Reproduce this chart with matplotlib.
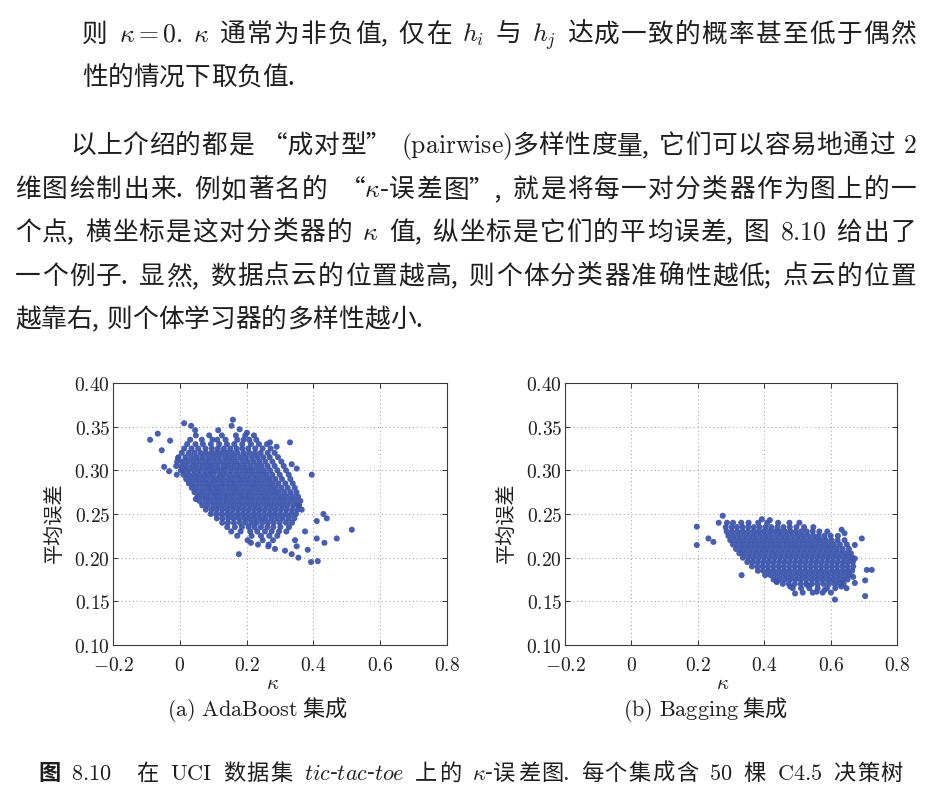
import matplotlib
matplotlib.use('Agg')
import matplotlib.pyplot as plt

plt.rcParams['font.family'] = ['Noto Sans CJK SC', 'DejaVu Sans']
plt.rcParams['mathtext.fontset'] = 'cm'
plt.rcParams['axes.unicode_minus'] = True

W, H, DPI = 934, 790, 100
TEXT_COLOR = '#1e1e1e'
DOT_COLOR = '#3d55ad'

# ---------------- text content ----------------
para_lines = [
    r"则 $\kappa = 0.$ $\kappa$ 通常为非负值, 仅在 $h_i$ 与 $h_j$ 达成一致的概率甚至低于偶然",
    r"性的情况下取负值.",
    r"以上介绍的都是 “成对型” $\mathrm{(pairwise)}$多样性度量, 它们可以容易地通过 $2$",
    r"维图绘制出来. 例如著名的 “$\kappa$-误差图”, 就是将每一对分类器作为图上的一",
    r"个点, 横坐标是这对分类器的 $\kappa$ 值, 纵坐标是它们的平均误差, 图 $8.10$ 给出了",
    r"一个例子. 显然, 数据点云的位置越高, 则个体分类器准确性越低; 点云的位置",
    r"越靠右, 则个体学习器的多样性越小.",
]
figure_caption = (r"图 $\mathbf{8.10}$  在 $\mathrm{UCI}$ 数据集 "
                  r"$\mathit{tic}$-$\mathit{tac}$-$\mathit{toe}$ 上的 $\kappa$-误差图. "
                  r"每个集成含 $\mathrm{50}$ 棵 $\mathrm{C4.5}$ 决策树")
sub_captions = [r"$\mathrm{(a)\ AdaBoost}$ 集成", r"$\mathrm{(b)\ Bagging}$ 集成"]
y_label = "平均误差"
x_label = r"$\kappa$"

x_ticks = [-0.2, 0.0, 0.2, 0.4, 0.6, 0.8]
x_tick_labels = [r"$-0.2$", r"$0$", r"$0.2$", r"$0.4$", r"$0.6$", r"$0.8$"]
y_ticks = [0.10, 0.15, 0.20, 0.25, 0.30, 0.35, 0.40]
y_tick_labels = [r"$0.10$", r"$0.15$", r"$0.20$", r"$0.25$", r"$0.30$", r"$0.35$", r"$0.40$"]

# ---------------- AdaBoost cloud ----------------
ada_err_levels = [0.340, 0.335, 0.330, 0.325, 0.320, 0.315, 0.310, 0.305, 0.300,
                  0.295, 0.290, 0.285, 0.280, 0.275, 0.270, 0.265, 0.260, 0.255,
                  0.250, 0.245, 0.240, 0.235, 0.230, 0.225, 0.220, 0.215]
ada_kappa_rows = [
    [0.048, 0.088, 0.126, 0.168, 0.196, 0.222],
    [0.031, 0.066, 0.098, 0.112, 0.137, 0.172, 0.191, 0.208, 0.229],
    [0.022, 0.047, 0.069, 0.093, 0.118, 0.141, 0.163, 0.187, 0.213, 0.237, 0.261],
    [0.013, 0.035, 0.055, 0.077, 0.096, 0.114, 0.132, 0.151, 0.170, 0.187, 0.205, 0.226, 0.248, 0.272],
    [0.006, 0.027, 0.044, 0.062, 0.078, 0.094, 0.109, 0.125, 0.141, 0.157, 0.173, 0.191, 0.208, 0.225, 0.242, 0.263, 0.284],
    [-0.004, 0.017, 0.034, 0.051, 0.068, 0.085, 0.101, 0.117, 0.134, 0.149, 0.165, 0.182, 0.198, 0.216, 0.233, 0.250, 0.269, 0.294],
    [-0.008, 0.009, 0.025, 0.042, 0.058, 0.075, 0.090, 0.106, 0.123, 0.139, 0.155, 0.171, 0.188, 0.204, 0.221, 0.238, 0.256, 0.277, 0.304],
    [-0.011, 0.004, 0.019, 0.036, 0.051, 0.067, 0.083, 0.098, 0.114, 0.131, 0.146, 0.162, 0.178, 0.195, 0.212, 0.229, 0.245, 0.263, 0.284, 0.311],
    [0.003, 0.013, 0.028, 0.044, 0.060, 0.076, 0.092, 0.107, 0.123, 0.138, 0.154, 0.171, 0.187, 0.203, 0.219, 0.236, 0.252, 0.270, 0.292, 0.318],
    [0.011, 0.025, 0.041, 0.056, 0.072, 0.087, 0.101, 0.118, 0.133, 0.149, 0.165, 0.180, 0.196, 0.212, 0.228, 0.244, 0.260, 0.277, 0.299, 0.326],
    [0.019, 0.034, 0.050, 0.066, 0.081, 0.097, 0.112, 0.128, 0.144, 0.159, 0.175, 0.190, 0.206, 0.222, 0.237, 0.253, 0.269, 0.286, 0.306, 0.331],
    [0.027, 0.042, 0.058, 0.074, 0.089, 0.105, 0.121, 0.136, 0.152, 0.167, 0.183, 0.199, 0.215, 0.230, 0.246, 0.262, 0.278, 0.295, 0.316, 0.338],
    [0.036, 0.051, 0.067, 0.083, 0.098, 0.113, 0.129, 0.145, 0.161, 0.176, 0.192, 0.208, 0.223, 0.239, 0.255, 0.271, 0.287, 0.304, 0.323, 0.344],
    [0.044, 0.060, 0.075, 0.091, 0.107, 0.122, 0.138, 0.154, 0.169, 0.185, 0.201, 0.216, 0.232, 0.248, 0.264, 0.280, 0.296, 0.313, 0.331, 0.349],
    [0.053, 0.068, 0.084, 0.100, 0.115, 0.131, 0.146, 0.162, 0.178, 0.193, 0.209, 0.225, 0.241, 0.257, 0.273, 0.289, 0.305, 0.321, 0.338, 0.354],
    [0.059, 0.076, 0.092, 0.108, 0.123, 0.139, 0.155, 0.171, 0.186, 0.202, 0.218, 0.234, 0.250, 0.266, 0.282, 0.298, 0.314, 0.330, 0.346, 0.361],
    [0.067, 0.083, 0.100, 0.116, 0.132, 0.148, 0.163, 0.179, 0.195, 0.211, 0.227, 0.243, 0.259, 0.275, 0.291, 0.307, 0.323, 0.340, 0.357],
    [0.078, 0.095, 0.111, 0.127, 0.143, 0.159, 0.175, 0.191, 0.207, 0.223, 0.239, 0.255, 0.271, 0.287, 0.303, 0.319, 0.336, 0.353],
    [0.093, 0.109, 0.125, 0.141, 0.156, 0.172, 0.188, 0.204, 0.220, 0.236, 0.252, 0.268, 0.284, 0.300, 0.317, 0.333, 0.348],
    [0.111, 0.128, 0.145, 0.161, 0.177, 0.193, 0.209, 0.225, 0.241, 0.257, 0.274, 0.291, 0.308, 0.326, 0.343],
    [0.127, 0.144, 0.162, 0.180, 0.197, 0.214, 0.230, 0.247, 0.264, 0.281, 0.299, 0.318, 0.336],
    [0.142, 0.165, 0.186, 0.206, 0.224, 0.243, 0.262, 0.280, 0.301, 0.327],
    [0.154, 0.182, 0.211, 0.232, 0.255, 0.275, 0.297, 0.319],
    [0.172, 0.215, 0.243, 0.268, 0.292],
    [0.203, 0.248, 0.279],
    [0.234, 0.266],
]
ada_out_kappa = [-0.089, -0.066, -0.029, -0.054, -0.047, -0.032, 0.013, 0.034, 0.046,
                 -0.005, -0.009, 0.159, 0.155, 0.115, 0.179, 0.201, 0.330, 0.270,
                 0.290, 0.335, 0.350, 0.395, 0.048, 0.355, 0.365, 0.430, 0.440,
                 0.410, 0.515, 0.470, 0.433, 0.410, 0.375, 0.383, 0.355, 0.335,
                 0.315, 0.285, 0.265, 0.393, 0.413, 0.177, 0.213, 0.345, 0.350]
ada_out_err = [0.335, 0.342, 0.334, 0.323, 0.304, 0.299, 0.354, 0.351, 0.346,
               0.314, 0.295, 0.358, 0.351, 0.346, 0.347, 0.343, 0.332, 0.332,
               0.327, 0.307, 0.302, 0.295, 0.267, 0.260, 0.255, 0.250, 0.245,
               0.242, 0.232, 0.222, 0.217, 0.222, 0.230, 0.209, 0.200, 0.204,
               0.208, 0.210, 0.213, 0.195, 0.196, 0.204, 0.217, 0.220, 0.213]

# ---------------- Bagging cloud ----------------
bag_err_levels = [0.240, 0.235, 0.230, 0.225, 0.220, 0.215, 0.210, 0.205, 0.200,
                  0.195, 0.190, 0.185, 0.180, 0.175, 0.170, 0.165, 0.160]
bag_kappa_rows = [
    [0.288, 0.306, 0.331, 0.353, 0.382, 0.409, 0.442, 0.476, 0.506],
    [0.284, 0.302, 0.318, 0.335, 0.352, 0.369, 0.386, 0.404, 0.421, 0.440, 0.458, 0.477, 0.497, 0.520, 0.548],
    [0.287, 0.303, 0.319, 0.335, 0.351, 0.367, 0.383, 0.399, 0.415, 0.431, 0.447, 0.463, 0.479, 0.495, 0.511, 0.528, 0.546, 0.566, 0.590],
    [0.292, 0.308, 0.324, 0.340, 0.356, 0.372, 0.388, 0.404, 0.420, 0.436, 0.452, 0.468, 0.484, 0.500, 0.516, 0.532, 0.548, 0.564, 0.581, 0.600, 0.622],
    [0.298, 0.314, 0.330, 0.346, 0.362, 0.378, 0.394, 0.410, 0.426, 0.442, 0.458, 0.474, 0.490, 0.506, 0.522, 0.538, 0.554, 0.570, 0.586, 0.603, 0.621, 0.642],
    [0.306, 0.322, 0.338, 0.354, 0.370, 0.386, 0.402, 0.418, 0.434, 0.450, 0.466, 0.482, 0.498, 0.514, 0.530, 0.546, 0.562, 0.578, 0.594, 0.610, 0.628, 0.649],
    [0.315, 0.331, 0.347, 0.363, 0.379, 0.395, 0.411, 0.427, 0.443, 0.459, 0.475, 0.491, 0.507, 0.523, 0.539, 0.555, 0.571, 0.587, 0.603, 0.619, 0.636, 0.655],
    [0.325, 0.341, 0.357, 0.373, 0.389, 0.405, 0.421, 0.437, 0.453, 0.469, 0.485, 0.501, 0.517, 0.533, 0.549, 0.565, 0.581, 0.597, 0.613, 0.629, 0.645, 0.661],
    [0.336, 0.352, 0.368, 0.384, 0.400, 0.416, 0.432, 0.448, 0.464, 0.480, 0.496, 0.512, 0.528, 0.544, 0.560, 0.576, 0.592, 0.608, 0.624, 0.640, 0.655, 0.666],
    [0.349, 0.365, 0.381, 0.397, 0.413, 0.429, 0.445, 0.461, 0.477, 0.493, 0.509, 0.525, 0.541, 0.557, 0.573, 0.589, 0.605, 0.621, 0.637, 0.652, 0.667],
    [0.363, 0.379, 0.395, 0.411, 0.427, 0.443, 0.459, 0.475, 0.491, 0.507, 0.523, 0.539, 0.555, 0.571, 0.587, 0.603, 0.619, 0.635, 0.651, 0.668],
    [0.381, 0.397, 0.413, 0.429, 0.445, 0.461, 0.477, 0.493, 0.509, 0.525, 0.541, 0.557, 0.573, 0.589, 0.605, 0.621, 0.637, 0.652, 0.665],
    [0.403, 0.419, 0.435, 0.451, 0.467, 0.483, 0.499, 0.515, 0.531, 0.547, 0.563, 0.579, 0.595, 0.611, 0.627, 0.643, 0.658],
    [0.428, 0.445, 0.462, 0.478, 0.494, 0.510, 0.526, 0.542, 0.558, 0.574, 0.590, 0.606, 0.622, 0.637, 0.651],
    [0.456, 0.474, 0.492, 0.510, 0.527, 0.544, 0.561, 0.578, 0.595, 0.612, 0.627, 0.639],
    [0.486, 0.511, 0.536, 0.561, 0.589, 0.614],
    [0.516, 0.546, 0.576, 0.601],
]
bag_out_kappa = [0.197, 0.197, 0.232, 0.247, 0.275, 0.263, 0.393, 0.417, 0.332, 0.437,
                 0.493, 0.613, 0.704, 0.709, 0.724, 0.704, 0.694, 0.673, 0.633, 0.642,
                 0.673, 0.668, 0.673, 0.648, 0.558, 0.528, 0.478, 0.438, 0.582, 0.632]
bag_out_err = [0.2355, 0.2145, 0.222, 0.218, 0.248, 0.240, 0.244, 0.243, 0.180, 0.173,
               0.159, 0.152, 0.156, 0.186, 0.186, 0.174, 0.222, 0.2145, 0.232, 0.228,
               0.199, 0.178, 0.171, 0.165, 0.161, 0.169, 0.167, 0.172, 0.163, 0.167]


def flatten(levels, rows, extra_k, extra_e):
    ks, es = [], []
    for e, row in zip(levels, rows):
        for k in row:
            ks.append(k)
            es.append(e)
    return ks + list(extra_k), es + list(extra_e)


fig = plt.figure(figsize=(W / DPI, H / DPI), dpi=DPI)
fig.patch.set_facecolor('white')
renderer = fig.canvas.get_renderer()

# ---------------- justified text layout ----------------
MERGE_PREV = set(',.;”-')


def tokenize(s):
    toks = []
    pending = ''
    glue = False
    i = 0
    while i < len(s):
        c = s[i]
        if c == '$':
            j = s.index('$', i + 1)
            piece = s[i:j + 1]
            i = j + 1
        elif c == ' ':
            if toks and toks[-1] in (' ', '  '):
                toks[-1] = '  '
            else:
                toks.append(' ')
            glue = False
            i += 1
            continue
        else:
            piece = c
            i += 1
        if piece in MERGE_PREV and toks and toks[-1] not in (' ', '  '):
            toks[-1] += piece
            glue = (piece == '-')
            continue
        if piece == '“':
            pending += piece
            continue
        if glue and toks and toks[-1] not in (' ', '  '):
            toks[-1] += pending + piece
        else:
            toks.append(pending + piece)
        pending = ''
        glue = False
    return toks


def place(s, x0, ybase, size, x1=None, bold=()):
    toks = tokenize(s)
    em = size * DPI / 72.0
    items, seps = [], []
    prev = None
    for t in toks:
        if t in (' ', '  '):
            prev = 'quad' if t == '  ' else 'space'
            continue
        k = len(items)
        art = fig.text(0, 0, t, fontsize=size, ha='left', va='baseline',
                       color=TEXT_COLOR,
                       fontweight='bold' if k in bold else 'normal')
        w = art.get_window_extent(renderer).width
        if items:
            seps.append(prev if prev else 'tight')
        items.append((art, w))
        prev = None
    nat = {'space': 0.28 * em, 'quad': 0.9 * em, 'tight': 0.0}
    wt = {'space': 3.0, 'quad': 3.0, 'tight': 1.0}
    total = sum(w for _, w in items) + sum(nat[g] for g in seps)
    extra = 0.0
    if x1 is not None and seps:
        extra = (x1 - x0 - total) / sum(wt[g] for g in seps)
    x = x0
    for idx, (art, w) in enumerate(items):
        art.set_position((x / W, 1 - ybase / H))
        x += w
        if idx < len(seps):
            x += nat[seps[idx]] + wt[seps[idx]] * extra


line_x0 = [82, 82, 70, 15, 15, 15, 15]
line_x1 = [916, None, 917, 917, 916, 916, None]
line_base = [42, 85, 153, 197, 240, 284, 327]
for s, a, b, yb in zip(para_lines, line_x0, line_x1, line_base):
    place(s, a, yb, 18.5, b)

place(figure_caption, 38, 780, 16, 903, bold=(0,))

# ---------------- scatter panels ----------------
panels = [
    ([113, 645, 334, 262], flatten(ada_err_levels, ada_kappa_rows, ada_out_kappa, ada_out_err), 55, 273, 257),
    ([565, 645, 332, 262], flatten(bag_err_levels, bag_kappa_rows, bag_out_kappa, bag_out_err), 507, 723, 706),
]
for (box, (ks, es), ylab_x, xlab_x, cap_x), cap in zip(panels, sub_captions):
    l, b, w, h = box
    ax = fig.add_axes([l / W, 1 - b / H, w / W, h / H])
    ax.scatter(ks, es, s=19, color=DOT_COLOR, edgecolors='none', alpha=0.95, zorder=3)
    ax.set_xlim(-0.2, 0.8)
    ax.set_ylim(0.10, 0.40)
    ax.set_xticks(x_ticks)
    ax.set_xticklabels(x_tick_labels)
    ax.set_yticks(y_ticks)
    ax.set_yticklabels(y_tick_labels)
    ax.grid(True, color='#9c9c9c', linestyle=(0, (1, 3)), linewidth=0.7, zorder=0)
    ax.tick_params(direction='in', top=True, right=True, length=3.5, width=0.7,
                   labelsize=14, colors='#333333', labelcolor=TEXT_COLOR)
    ax.tick_params(axis='x', pad=7.5)
    ax.tick_params(axis='y', pad=2)
    for sp in ax.spines.values():
        sp.set_linewidth(0.8)
        sp.set_color('#3a3a3a')
    fig.text(ylab_x / W, 1 - 523 / H, y_label, rotation=90, ha='center', va='center',
             fontsize=14.5, color=TEXT_COLOR)
    fig.text(xlab_x / W, 1 - 683 / H, x_label, ha='center', va='center',
             fontsize=15, color=TEXT_COLOR)
    fig.text(cap_x / W, 1 - 710 / H, cap, ha='center', va='center',
             fontsize=16, color=TEXT_COLOR)

fig.savefig('out.png', dpi=DPI, facecolor='white')
